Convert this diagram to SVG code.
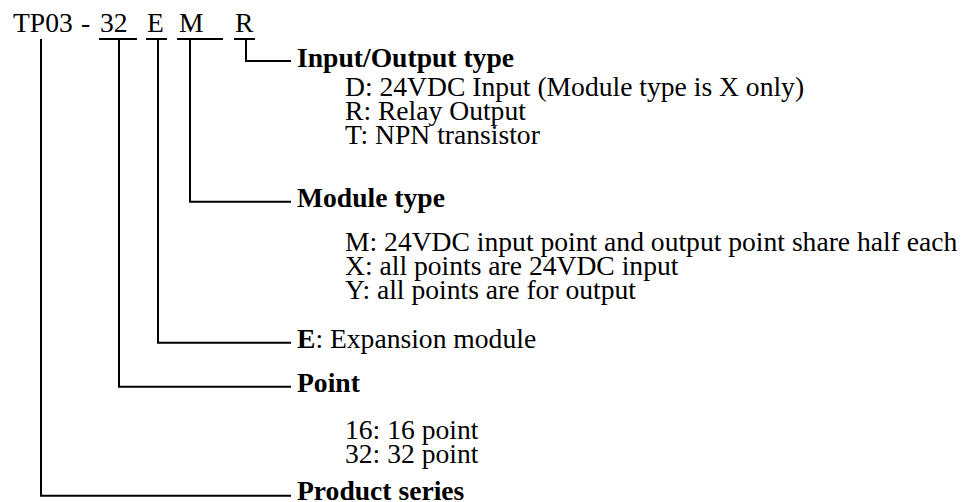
<svg xmlns="http://www.w3.org/2000/svg" width="969" height="502" viewBox="0 0 969 502">
<style>
text{font-family:"Liberation Serif","Times New Roman",serif;font-size:27.6px;fill:#000}
.b{font-weight:bold}
.ln{stroke:#000;stroke-width:2;fill:none}
</style>
<rect width="969" height="502" fill="#fff"/>
<g id="code">
<text x="13" y="32">TP03</text>
<text x="81" y="32">-</text>
<text x="100" y="32">32</text>
<text x="147" y="32">E</text>
<text x="179" y="32">M</text>
<text x="235" y="32">R</text>
</g>
<g id="connectors" class="ln">
<path d="M99 39H137M146 39H167M177 39H223M234 39H255"/>
<path d="M246 39V61H291"/>
<path d="M190 39V201.7H291"/>
<path d="M158 39V342.7H291"/>
<path d="M119 39V386.7H291"/>
<path d="M41 39V495.7H291"/>
</g>
<g id="io-type">
<text class="b" x="297" y="66.5">Input/Output type</text>
<text x="345" y="96">D: 24VDC Input (Module type is X only)</text>
<text x="345" y="120">R: Relay Output</text>
<text x="345" y="144">T: NPN transistor</text>
</g>
<g id="module-type">
<text class="b" x="297" y="207">Module type</text>
<text x="345" y="251">M: 24VDC input point and output point share half each</text>
<text x="345" y="275">X: all points are 24VDC input</text>
<text x="345" y="299">Y: all points are for output</text>
</g>
<g id="expansion">
<text x="297" y="348"><tspan class="b">E</tspan>: Expansion module</text>
</g>
<g id="point">
<text class="b" x="297" y="392">Point</text>
<text x="345" y="439">16: 16 point</text>
<text x="345" y="463">32: 32 point</text>
</g>
<g id="product-series">
<text class="b" x="297" y="500">Product series</text>
</g>
</svg>
